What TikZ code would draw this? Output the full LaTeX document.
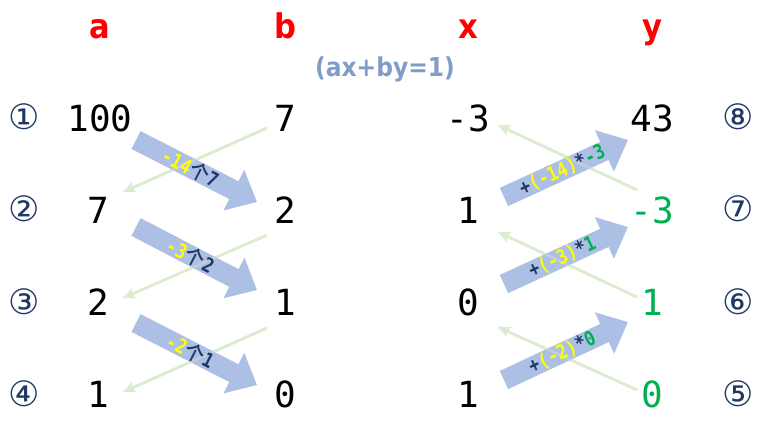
\documentclass[tikz,border=0pt]{standalone}
\usepackage{fontspec}
\setmainfont{DejaVu Sans}
\newfontfamily\monof{DejaVu Sans Mono}
\newfontfamily\lblf[FakeStretch=0.85]{DejaVu Sans Mono Bold}
\newfontfamily\condf{DejaVu Sans Condensed Bold}
\newfontfamily\cjkf{Noto Sans CJK SC Medium}
\usetikzlibrary{arrows.meta}
\definecolor{hdrred}{RGB}{255,0,0}
\definecolor{eqblue}{RGB}{128,156,200}
\definecolor{navy}{RGB}{31,56,100}
\definecolor{valgreen}{RGB}{0,176,80}
\definecolor{lblyellow}{RGB}{255,255,0}
\definecolor{arrblue}{RGB}{172,191,228}
\definecolor{thingreen}{RGB}{220,236,208}
\tikzset{
  hdr/.style={font=\condf\fontsize{34}{38}\selectfont, text=hdrred, anchor=base, inner sep=0pt},
  val/.style={font=\monof\fontsize{36}{40}\selectfont, text=black, anchor=center, inner sep=0pt},
  gval/.style={val, text=valgreen},
  circ/.style={font=\fontsize{35}{38}\selectfont, text=navy, anchor=center, inner sep=0pt},
  bluearrow/.style={draw=arrblue, line width=20pt,
     -{Triangle[length=26pt,width=44pt]}},
  greenarrow/.style={draw=thingreen, line width=2.8pt,
     -{Stealth[length=12pt,width=11pt,inset=2pt]}},
  greenover/.style={draw=thingreen, line width=2.8pt, draw opacity=0.35},
  lbl/.style={font=\lblf\fontsize{20}{22}\selectfont, sloped, pos=0.45, inner sep=0pt, text=navy},
}
\newcommand{\yl}[1]{\textcolor{lblyellow}{#1}}
\newcommand{\gl}[1]{\textcolor{valgreen}{#1}}
\newcommand{\gechar}{{\cjkf 个}}
\begin{document}
\begin{tikzpicture}[x=1pt,y=-1pt]
\useasboundingbox (0,0) rectangle (770,438);
% headers
\node[hdr] (ha) at (100,39) {a};
\node[hdr] (hb) at (285,39) {b};
\node[hdr] (hx) at (468,39) {x};
\node[hdr] (hy) at (652,39) {y};
\node[font=\condf\fontsize{26}{28}\selectfont, text=eqblue, anchor=base, inner sep=0pt] (eq) at (385,77) {(ax+by=1)};
% circled numbers
\node[circ] (c1) at (24,117) {①};
\node[circ] (c2) at (24,209) {②};
\node[circ] (c3) at (24,302) {③};
\node[circ] (c4) at (24,394) {④};
\node[circ] (c8) at (738,117) {⑧};
\node[circ] (c7) at (738,209) {⑦};
\node[circ] (c6) at (738,302) {⑥};
\node[circ] (c5) at (738,394) {⑤};
% values
\node[val] (a1) at (100,118) {100};
\node[val] (a2) at (98,210) {7};
\node[val] (a3) at (98,302) {2};
\node[val] (a4) at (98,394) {1};
\node[val] (b1) at (285,118) {7};
\node[val] (b2) at (285,210) {2};
\node[val] (b3) at (285,302) {1};
\node[val] (b4) at (285,394) {0};
\node[val] (x1) at (468,118) {-3};
\node[val] (x2) at (468,210) {1};
\node[val] (x3) at (468,302) {0};
\node[val] (x4) at (468,394) {1};
\node[val] (y1) at (652,118) {43};
\node[gval] (y2) at (652,210) {-3};
\node[gval] (y3) at (652,302) {1};
\node[gval] (y4) at (652,394) {0};
% arrow end points
\coordinate (gl1s) at (267,128); \coordinate (gl1e) at (123,192);
\coordinate (gl2s) at (267,235); \coordinate (gl2e) at (123,298);
\coordinate (gl3s) at (267,328); \coordinate (gl3e) at (123,392);
\coordinate (gr1s) at (637,190); \coordinate (gr1e) at (498,125);
\coordinate (gr2s) at (637,297); \coordinate (gr2e) at (498,232);
\coordinate (gr3s) at (637,390); \coordinate (gr3e) at (498,327);
\coordinate (bl1s) at (136,140); \coordinate (bl1e) at (257,202);
\coordinate (bl2s) at (136,227); \coordinate (bl2e) at (257,290);
\coordinate (bl3s) at (136,323); \coordinate (bl3e) at (257,385);
\coordinate (br1s) at (504,197); \coordinate (br1e) at (628,140);
\coordinate (br2s) at (504,284); \coordinate (br2e) at (628,227);
\coordinate (br3s) at (504,380); \coordinate (br3e) at (628,322);
% thin green arrows
\draw[greenarrow] (gl1s) -- (gl1e);
\draw[greenarrow] (gl2s) -- (gl2e);
\draw[greenarrow] (gl3s) -- (gl3e);
\draw[greenarrow] (gr1s) -- (gr1e);
\draw[greenarrow] (gr2s) -- (gr2e);
\draw[greenarrow] (gr3s) -- (gr3e);
% big blue arrows
\draw[bluearrow] (bl1s) -- (bl1e);
\draw[bluearrow] (bl2s) -- (bl2e);
\draw[bluearrow] (bl3s) -- (bl3e);
\draw[bluearrow] (br1s) -- (br1e);
\draw[bluearrow] (br2s) -- (br2e);
\draw[bluearrow] (br3s) -- (br3e);
% green lines showing through the blue arrows
\draw[greenover] (gl1s) -- (gl1e);
\draw[greenover] (gl2s) -- (gl2e);
\draw[greenover] (gl3s) -- (gl3e);
\draw[greenover] (gr1s) -- (gr1e);
\draw[greenover] (gr2s) -- (gr2e);
\draw[greenover] (gr3s) -- (gr3e);
% labels
\path (bl1s) -- node[lbl] (t1) {\yl{-14}\gechar 7} (bl1e);
\path (bl2s) -- node[lbl] (t2) {\yl{-3}\gechar 2} (bl2e);
\path (bl3s) -- node[lbl] (t3) {\yl{-2}\gechar 1} (bl3e);
\path (br1s) -- node[lbl, pos=0.47] (t4) {+\yl{(-14)}*\gl{-3}} (br1e);
\path (br2s) -- node[lbl, pos=0.47] (t5) {+\yl{(-3)}*\gl{1}} (br2e);
\path (br3s) -- node[lbl, pos=0.47] (t6) {+\yl{(-2)}*\gl{0}} (br3e);
\end{tikzpicture}
\end{document}
